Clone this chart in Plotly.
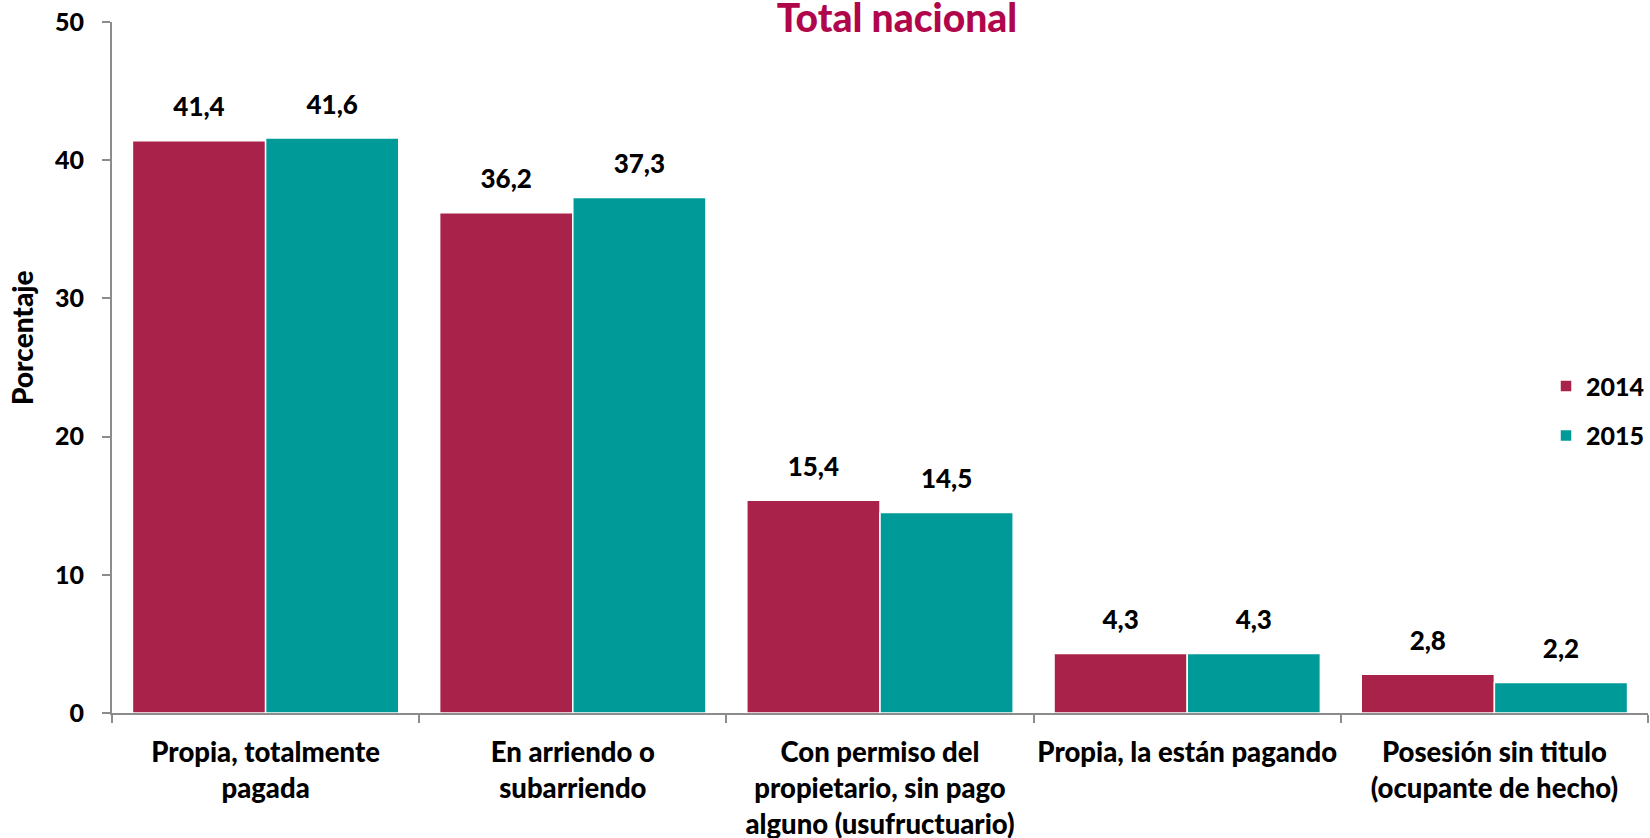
import plotly.graph_objects as go

categories = [
    "Propia, totalmente<br>pagada",
    "En arriendo o<br>subarriendo",
    "Con permiso del<br>propietario, sin pago<br>alguno (usufructuario)",
    "Propia, la están pagando",
    "Posesión sin titulo<br>(ocupante de hecho)",
]
series_names = ["2014", "2015"]
values_2014 = [41.4, 36.2, 15.4, 4.3, 2.8]
values_2015 = [41.6, 37.3, 14.5, 4.3, 2.2]
y_ticks = [0, 10, 20, 30, 40, 50]

colors = ["#A82249", "#009A99"]
FONT = "Lato"
W = 900

fig = go.Figure()
for name, vals, col in zip(series_names, [values_2014, values_2015], colors):
    fig.add_trace(go.Bar(
        x=categories, y=vals, name=name, legendgroup=name,
        offsetgroup=name,
        marker=dict(color=col, line=dict(color="white", width=1.5)),
        cliponaxis=False,
    ))
for name, vals in zip(series_names, [values_2014, values_2015]):
    fig.add_trace(go.Scatter(
        x=categories, y=vals, mode="markers+text", offsetgroup=name,
        marker=dict(size=27, opacity=0), showlegend=False, hoverinfo="skip",
        texttemplate="%{y:.1f}", textposition="top center",
        textfont=dict(family=FONT, size=26, color="black", weight=W),
        cliponaxis=False,
    ))

fig.add_annotation(
    text="Porcentaje", textangle=-90, xref="paper", yref="paper",
    x=(22 - 112) / 1536, y=(713 - 338) / 691, xanchor="center", yanchor="middle",
    showarrow=False, font=dict(family=FONT, size=28, color="black", weight=W),
)

fig.update_layout(
    width=1650, height=838,
    margin=dict(l=112, r=2, t=22, b=125, autoexpand=False),
    paper_bgcolor="white", plot_bgcolor="white",
    separators=",.",
    barmode="group", bargap=0.133, bargroupgap=0,
    scattermode="group", scattergap=0.133,
    font=dict(family=FONT, color="black"),
    title=dict(text="Total nacional", x=0.5436, xanchor="center",
               y=1 - 18 / 838, yanchor="middle",
               font=dict(family=FONT, size=39, color="#B0064B", weight=W)),
    legend=dict(x=0.9336, xanchor="left", y=0.4375, yanchor="middle",
                font=dict(family=FONT, size=25, color="black", weight=W),
                traceorder="grouped", tracegroupgap=14, bgcolor="rgba(0,0,0,0)"),
    showlegend=True,
)
fig.update_yaxes(
    range=[0, 50], tickvals=y_ticks, showgrid=False, zeroline=False,
    showline=True, linecolor="#8C8C8C", linewidth=2,
    ticks="outside", ticklen=8, tickcolor="#8C8C8C", tickwidth=2,
    ticklabelstandoff=13,
    tickfont=dict(family=FONT, size=25, color="black", weight=W),
)
fig.update_xaxes(
    showgrid=False, showline=True, linecolor="#8C8C8C", linewidth=2,
    ticks="outside", ticklen=8, tickcolor="#8C8C8C", tickwidth=2,
    tickson="boundaries", ticklabelstandoff=14, tickangle=0,
    tickfont=dict(family=FONT, size=27.5, color="black", weight=W),
)

fig.write_html("out.html", config={"displayModeBar": False},
               post_script="document.body.style.margin='0';")
